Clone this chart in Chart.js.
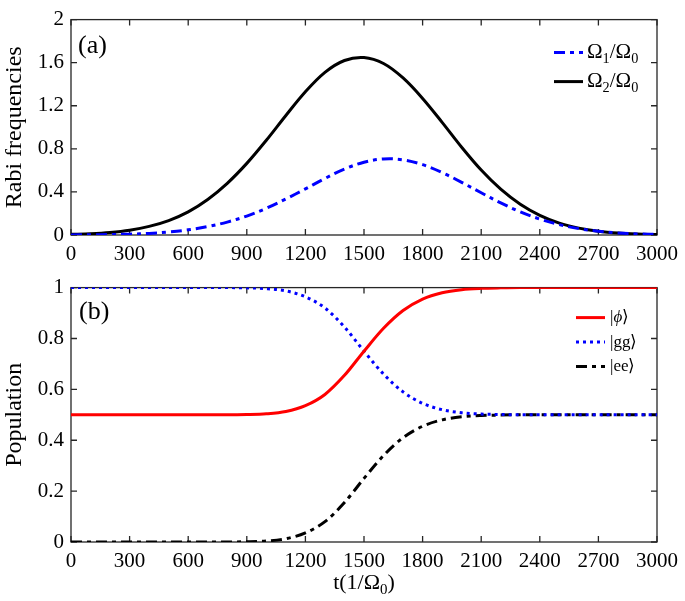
<!DOCTYPE html>
<html><head><meta charset="utf-8">
<script src="https://cdn.jsdelivr.net/npm/chart.js@4.4.0/dist/chart.umd.min.js"></script>
<style>
html,body{margin:0;padding:0;background:#fff;}
.box{position:absolute;left:0;width:685px;}
</style></head><body>
<div style="position:relative;width:685px;height:601px;">
<div class="box" style="top:0;height:268px"><canvas id="c1"></canvas></div>
<div class="box" style="top:268px;height:333px"><canvas id="c2"></canvas></div>
</div>
<script>
// ---- data ----
const timeTicks = [0,300,600,900,1200,1500,1800,2100,2400,2700,3000];
const rabiTicks = [0,0.4,0.8,1.2,1.6,2];
const popTicks = [0,0.2,0.4,0.6,0.8,1];
const t = [0,100,200,300,400,500,600,700,800,900,1000,1100,1200,1300,1400,1500,1600,1700,1800,1900,2000,2100,2200,2300,2400,2500,2600,2700,2800,2900,3000];
const omega1 = [0.001,0.002,0.004,0.008,0.015,0.028,0.048,0.078,0.120,0.176,0.248,0.335,0.428,0.525,0.612,0.676,0.706,0.698,0.653,0.580,0.489,0.392,0.298,0.215,0.148,0.096,0.059,0.035,0.019,0.010,0.005];
const omega2 = [0.006,0.012,0.024,0.045,0.080,0.134,0.215,0.330,0.480,0.665,0.880,1.110,1.330,1.510,1.620,1.648,1.592,1.458,1.268,1.046,0.815,0.603,0.425,0.285,0.182,0.110,0.064,0.035,0.018,0.009,0.004];
const phi = [0.5,0.5,0.5,0.5,0.5,0.5,0.5,0.5,0.5,0.501,0.504,0.513,0.536,0.58,0.655,0.75,0.84,0.91,0.955,0.98,0.992,0.997,0.999,1,1,1,1,1,1,1,1];
const gg  = [1,1,1,1,1,1,1,1,1,0.999,0.996,0.987,0.964,0.92,0.845,0.75,0.66,0.59,0.545,0.52,0.508,0.503,0.501,0.5,0.5,0.5,0.5,0.5,0.5,0.5,0.5];
const ee  = [0,0,0,0,0,0,0,0,0,0.001,0.004,0.013,0.036,0.08,0.155,0.25,0.34,0.41,0.455,0.48,0.492,0.497,0.499,0.5,0.5,0.5,0.5,0.5,0.5,0.5,0.5];

const FONT = '"Liberation Serif","Times New Roman",serif';
const AX = '#262626';
const pts = arr => t.map((x,i)=>({x:x,y:arr[i]}));

// part style: 0 normal, 1 subscript, 2 italic
function partFont(st, size){ return (st===2?'italic ':'') + (st===1?size*0.68:size)+'px '+FONT; }
function richWidth(ctx, parts, size){
  let w = 0;
  parts.forEach(([s,st])=>{ ctx.font=partFont(st,size); w+=ctx.measureText(s).width; });
  return w;
}
function drawRich(ctx, parts, x, y, size){
  let cx = x;
  parts.forEach(([s,st])=>{
    ctx.font = partFont(st,size);
    ctx.fillText(s, cx, st===1 ? y+size*0.32 : y);
    cx += ctx.measureText(s).width;
  });
}

const boxPlugin = {
  id:'boxTicks',
  beforeDatasetsDraw(chart){
    const {ctx, chartArea:a, scales:{x,y}} = chart;
    ctx.save();
    ctx.strokeStyle = AX; ctx.lineWidth = 1.3;
    ctx.strokeRect(a.left, a.top, a.right-a.left, a.bottom-a.top);
    const L = 6;
    ctx.beginPath();
    x.ticks.forEach(tk=>{const p=x.getPixelForValue(tk.value);
      ctx.moveTo(p,a.bottom); ctx.lineTo(p,a.bottom-L); ctx.moveTo(p,a.top); ctx.lineTo(p,a.top+L);});
    y.ticks.forEach(tk=>{const p=y.getPixelForValue(tk.value);
      ctx.moveTo(a.left,p); ctx.lineTo(a.left+L,p); ctx.moveTo(a.right,p); ctx.lineTo(a.right-L,p);});
    ctx.stroke();
    ctx.restore();
  },
  afterDraw(chart, args, o){
    const ctx = chart.ctx, a = chart.chartArea;
    ctx.save();
    ctx.fillStyle = '#000'; ctx.textBaseline = 'middle';
    ctx.font = o.panelSize+'px '+FONT;
    ctx.fillText(o.panel, a.left+o.panelDx, a.top+o.panelDy);
    o.legend.forEach((item,i)=>{
      const ds = chart.data.datasets[i];
      const yy = a.top + o.legY + i*o.legStep;
      ctx.strokeStyle = ds.borderColor; ctx.lineWidth = ds.borderWidth;
      ctx.setLineDash(ds.borderDash || []);
      ctx.beginPath(); ctx.moveTo(o.legX, yy); ctx.lineTo(o.legX+o.legLen, yy); ctx.stroke();
      ctx.setLineDash([]);
      ctx.fillStyle = '#000';
      drawRich(ctx, item, o.legX+o.legLen+o.legGap, yy, o.legSize);
    });
    if (o.xtitle){
      const w = richWidth(ctx, o.xtitle, o.xtitleSize);
      drawRich(ctx, o.xtitle, (a.left+a.right)/2 - w/2, o.xtitleY, o.xtitleSize);
    }
    ctx.restore();
  }
};

function makeOpts(yTicks, yMax, yTitle, xH, padTop, extra){
  return {
    responsive:true, maintainAspectRatio:false, animation:false,
    layout:{padding:{top:padTop,right:24,left:0,bottom:0}},
    plugins:{legend:{display:false}, tooltip:{enabled:false}, boxTicks:extra},
    elements:{point:{radius:0}},
    scales:{
      x:{type:'linear', min:0, max:3000,
        grid:{display:false, drawTicks:false}, border:{display:false},
        afterBuildTicks: s=>{ s.ticks = timeTicks.map(v=>({value:v})); },
        afterFit: s=>{ s.height = xH; },
        ticks:{padding:7, color:'#000', maxRotation:0, autoSkip:false, font:{family:FONT,size:21}, callback:v=>String(v)}},
      y:{type:'linear', min:0, max:yMax,
        grid:{display:false, drawTicks:false}, border:{display:false},
        afterBuildTicks: s=>{ s.ticks = yTicks.map(v=>({value:v})); },
        afterFit: s=>{ s.width = 71; },
        title:{display:true, text:yTitle, color:'#000', font:{family:FONT,size:24}, padding:{top:0,bottom:0}},
        ticks:{padding:7, color:'#000', autoSkip:false, font:{family:FONT,size:21}, callback:v=>String(v)}}
    }
  };
}

new Chart(document.getElementById('c1'), {
  type:'line',
  data:{datasets:[
    {label:'Ω1/Ω0', data:pts(omega1), borderColor:'#0000ff', borderWidth:3, borderDash:[11,5,4,5], tension:0.35, fill:false},
    {label:'Ω2/Ω0', data:pts(omega2), borderColor:'#000000', borderWidth:3, tension:0.35, fill:false}
  ]},
  options: makeOpts(rabiTicks, 2, 'Rabi frequencies', 33, 10, {
    panel:'(a)', panelSize:26, panelDx:7, panelDy:27,
    legend:[[['Ω',0],['1',1],['/Ω',0],['0',1]], [['Ω',0],['2',1],['/Ω',0],['0',1]]],
    legX:554, legY:33, legStep:29, legLen:29, legGap:4, legSize:21
  }),
  plugins:[boxPlugin]
});

new Chart(document.getElementById('c2'), {
  type:'line',
  data:{datasets:[
    {label:'|ϕ⟩', data:pts(phi), borderColor:'#ff0000', borderWidth:3, cubicInterpolationMode:'monotone', fill:false},
    {label:'|gg⟩', data:pts(gg), borderColor:'#0000ff', borderWidth:3, borderDash:[3,4], cubicInterpolationMode:'monotone', fill:false},
    {label:'|ee⟩', data:pts(ee), borderColor:'#000000', borderWidth:3, borderDash:[11,5,4,5], cubicInterpolationMode:'monotone', fill:false}
  ]},
  options: makeOpts(popTicks, 1, 'Population', 59, 9, {
    panel:'(b)', panelSize:26, panelDx:8, panelDy:25,
    legend:[[['|',0],['ϕ',2],['⟩',0]], [['|gg⟩',0]], [['|ee⟩',0]]],
    legX:576, legY:30, legStep:24.5, legLen:29, legGap:5, legSize:17,
    xtitle:[['t(1/Ω',0],['0',1],[')',0]], xtitleY:315, xtitleSize:22
  }),
  plugins:[boxPlugin]
});
</script>
</body></html>
